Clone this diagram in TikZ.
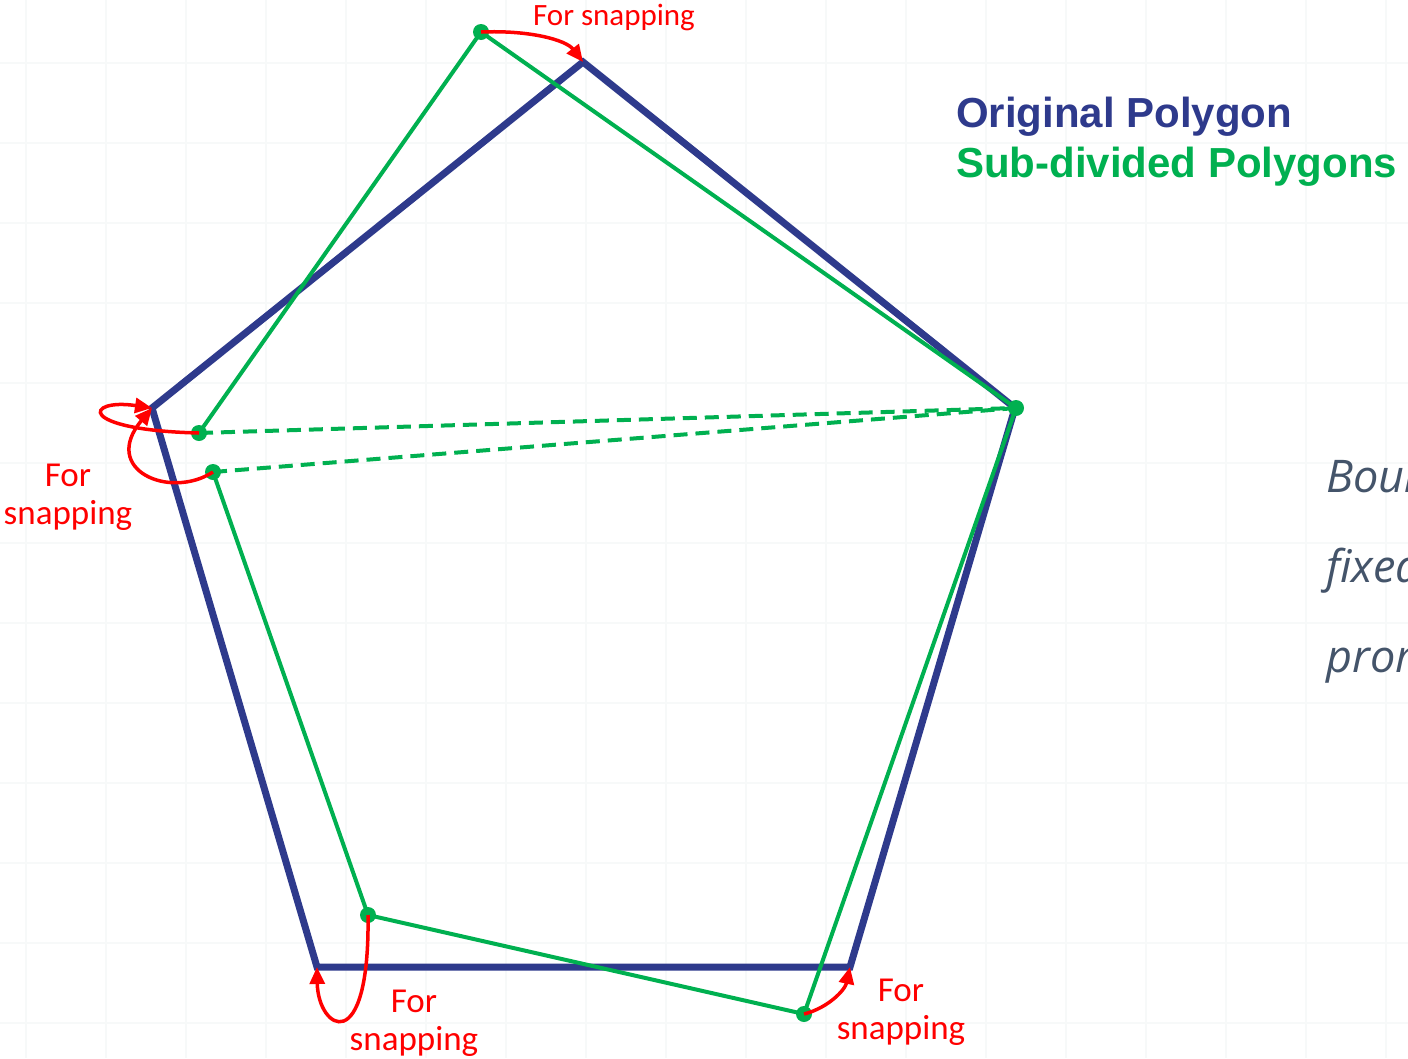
\documentclass[tikz,border=0pt]{standalone}
\usepackage{fontspec}
\setmainfont{Carlito}
\newfontfamily\arialfont{Liberation Sans}
\newfontfamily\italfont{Open Sans}
\usetikzlibrary{arrows.meta}
\definecolor{origblue}{RGB}{46,58,140}
\definecolor{subgreen}{RGB}{0,176,80}
\definecolor{snapred}{RGB}{255,0,0}
\definecolor{slate}{RGB}{68,84,106}
\definecolor{gridgray}{RGB}{247,249,249}
\begin{document}
\begin{tikzpicture}[x=1pt,y=-1pt,
  gridline/.style={gridgray,line width=1.5pt},
  origpoly/.style={origblue,line width=7pt,line join=miter},
  subpoly/.style={subgreen,line width=4pt,line cap=round},
  subdash/.style={subpoly,dash pattern=on 14pt off 8pt,line cap=butt},
  gdot/.style={circle,fill=subgreen,minimum size=16pt,inner sep=0pt},
  snaparrow/.style={snapred,line width=3.5pt,-{Triangle[length=17pt,width=15pt]}},
  snaplabel/.style={snapred,font=\fontsize{35}{38}\selectfont,align=center,inner sep=0pt},
  legend/.style={font=\arialfont\bfseries\fontsize{42}{42}\selectfont,anchor=base west,inner sep=0pt},
  sidetext/.style={slate,font=\italfont\itshape\fontsize{45}{45}\selectfont,anchor=base west,inner sep=0pt}]
\useasboundingbox (0,0) rectangle (1408,1058);
\clip (0,0) rectangle (1408,1058);
\fill[white] (0,0) rectangle (1408,1058);
% faint grid
\foreach \gx in {26,106,...,1406} \draw[gridline] (\gx,0) -- (\gx,1058);
\foreach \gy in {63,143,...,1050} \draw[gridline] (0,\gy) -- (1408,\gy);

% original polygon
\coordinate (bt) at (583,62);
\coordinate (br) at (1015,408);
\coordinate (bbr) at (850,967);
\coordinate (bbl) at (317,967);
\coordinate (bl) at (152,408);
\draw[origpoly] (bt) -- (br) -- (bbr) -- (bbl) -- (bl) -- cycle;

% sub-divided polygons
\node[gdot] (gt) at (481,32) {};
\node[gdot] (gr) at (1016,408) {};
\node[gdot] (gl1) at (199,433) {};
\node[gdot] (gl2) at (213,472) {};
\node[gdot] (gbl) at (368,915) {};
\node[gdot] (gbr) at (804,1014) {};
\draw[subpoly] (gt.center) -- (gr.center);
\draw[subpoly] (gt.center) -- (gl1.center);
\draw[subdash] (gl1.center) -- (gr.center);
\draw[subdash] (gl2.center) -- (gr.center);
\draw[subpoly] (gl2.center) -- (gbl.center) -- (gbr.center) -- (gr.center);

% snapping arrows
\draw[snaparrow] (gt.center) .. controls (530,30) and (566,40) .. (bt);
\draw[snaparrow] (gl1.center) .. controls (75,430) and (85,398) .. (bl);
\draw[snaparrow] (gl2.center) .. controls (170,500) and (100,470) .. (bl);
\draw[snaparrow] (gbl.center) .. controls (370,1060) and (318,1030) .. (bbl);
\draw[snaparrow] (gbr.center) .. controls (828,1008) and (845,990) .. (bbr);

% labels
\node[snaplabel,anchor=base] (lt) at (614,25) {\fontsize{31}{31}\selectfont For snapping};
\node[snaplabel,anchor=north] (ll) at (68,464) {For\\snapping};
\node[snaplabel,anchor=north] (lbl) at (414,990) {For\\snapping};
\node[snaplabel,anchor=north] (lbr) at (901,979) {For\\snapping};

% legend
\node[legend,origblue] (leg1) at (956,127) {Original Polygon};
\node[legend,subgreen] (leg2) at (956,177) {Sub-divided Polygons};

% side text, cut off at the right edge as in the reference
\node[sidetext] (s1) at (1326,492) {Boundary};
\node[sidetext] (s2) at (1326,582) {fixed};
\node[sidetext] (s3) at (1326,672) {prom};
\end{tikzpicture}
\end{document}
